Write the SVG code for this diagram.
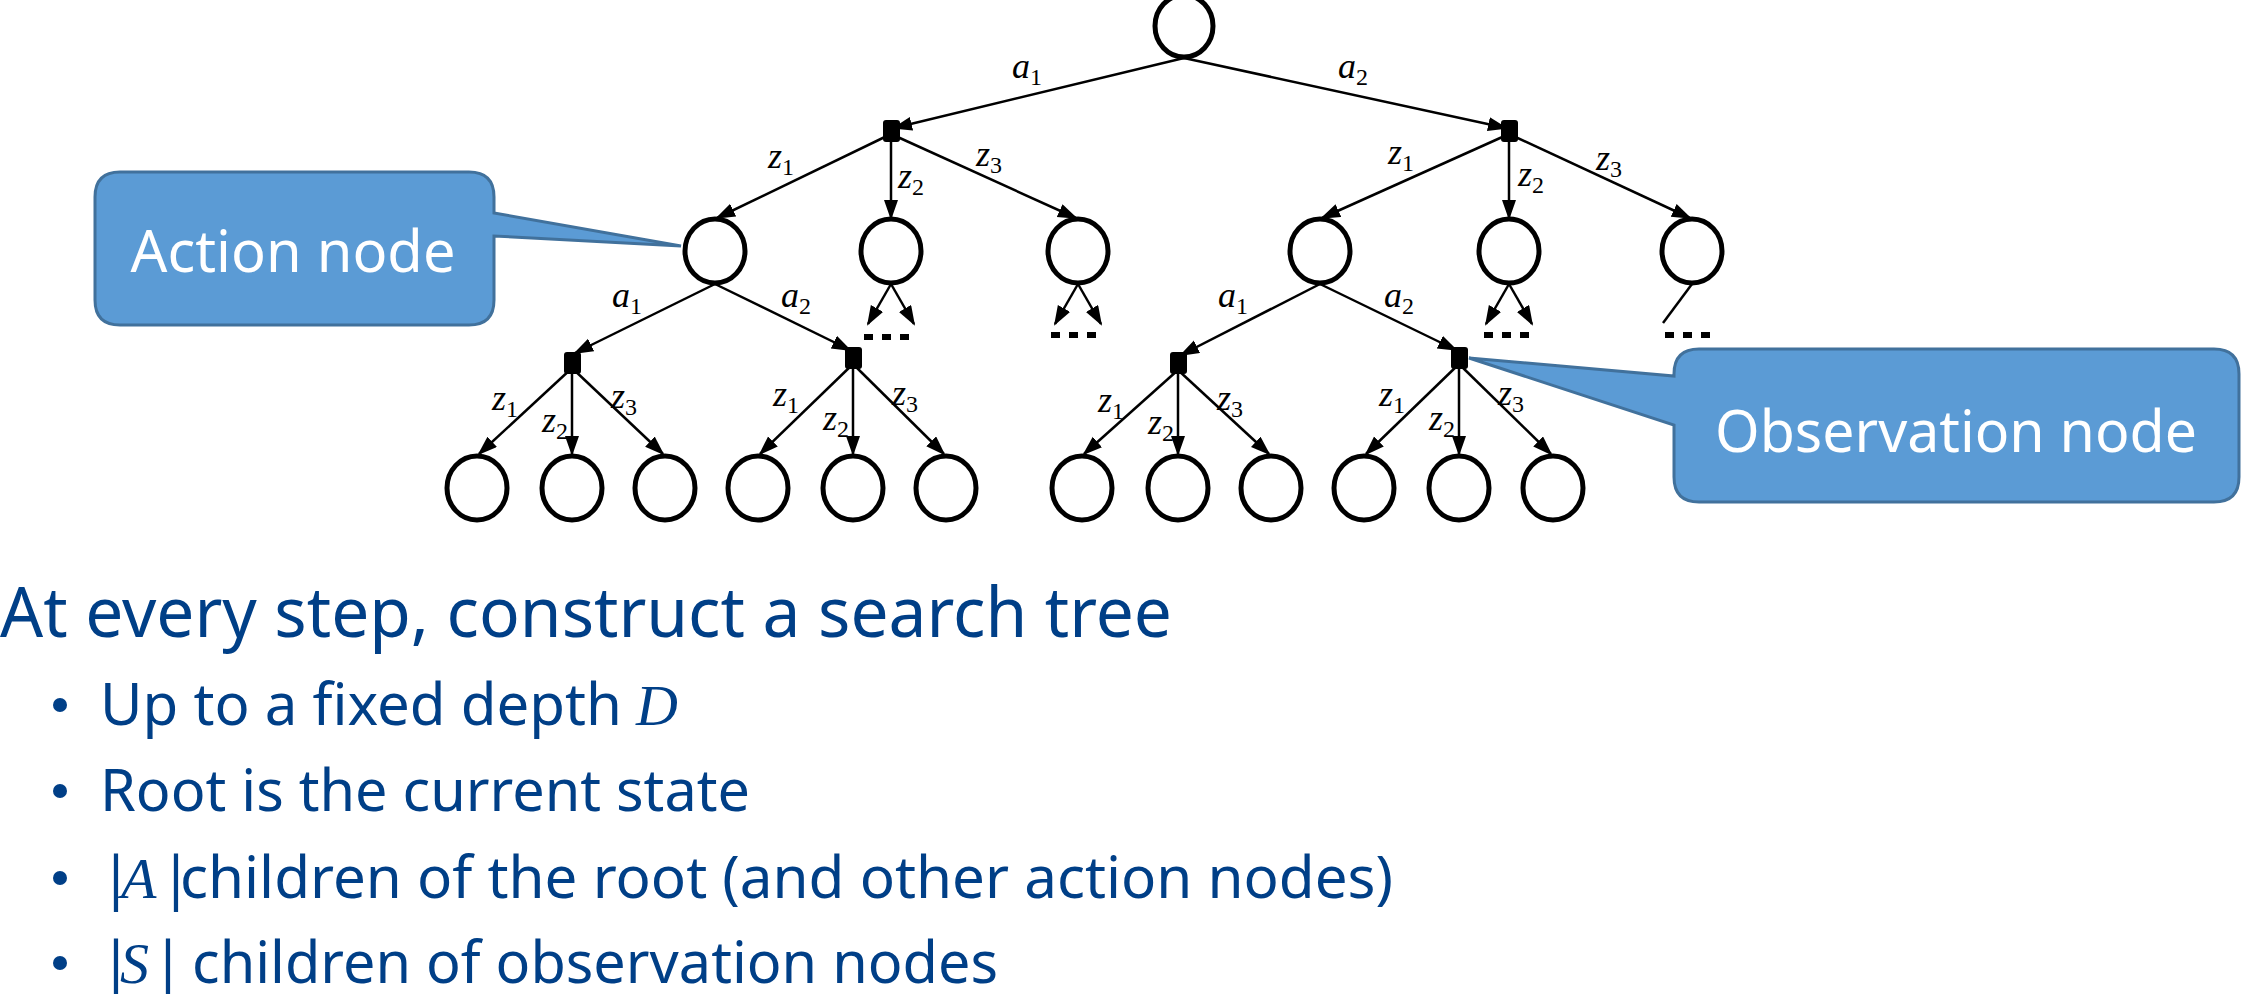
<svg xmlns="http://www.w3.org/2000/svg" width="2247" height="994" viewBox="0 0 2247 994">
<style>
.c{fill:#fff;stroke:#000;stroke-width:5}
.o{fill:#000}
.e{stroke:#000;stroke-width:2.5;fill:none}
.ea{stroke:#000;stroke-width:2.5;fill:none;marker-end:url(#ah)}
.l{font-family:"Liberation Serif",serif;font-style:italic;font-size:36px;fill:#000}
.s{font-size:24px;font-style:normal}
.call{fill:#5B9BD5;stroke:#41719C;stroke-width:3}
.ct{font-family:"Noto Sans","Open Sans",sans-serif;font-size:58px;fill:#fff}
.t{font-family:"Noto Sans","Open Sans",sans-serif;fill:#003F87}
.m{font-family:"Liberation Serif",serif;font-style:italic}
.d{fill:#000}
</style>
<defs>
<marker id="ah" markerUnits="userSpaceOnUse" markerWidth="20" markerHeight="16" refX="18" refY="7" orient="auto"><path d="M0,0 L20,7 L0,14 Z" fill="#000"/></marker>
</defs>
<g id="connectors">
<line class="ea" x1="1184" y1="58" x2="894" y2="128"/>
<line class="ea" x1="1184" y1="58" x2="1506" y2="128"/>
<line class="ea" x1="891" y1="134" x2="717" y2="218"/>
<line class="ea" x1="891" y1="134" x2="891" y2="218"/>
<line class="ea" x1="891" y1="134" x2="1076" y2="218"/>
<line class="ea" x1="1509" y1="134" x2="1322" y2="218"/>
<line class="ea" x1="1509" y1="134" x2="1509" y2="218"/>
<line class="ea" x1="1509" y1="134" x2="1690" y2="218"/>
<line class="ea" x1="715" y1="284" x2="575" y2="353"/>
<line class="ea" x1="715" y1="284" x2="850" y2="350"/>
<line class="ea" x1="1320" y1="284" x2="1181" y2="355"/>
<line class="ea" x1="1320" y1="284" x2="1456" y2="350"/>
<line class="ea" x1="891" y1="284" x2="868" y2="324"/>
<line class="ea" x1="891" y1="284" x2="914" y2="324"/>
<line class="ea" x1="1078" y1="284" x2="1055" y2="324"/>
<line class="ea" x1="1078" y1="284" x2="1101" y2="324"/>
<line class="ea" x1="1509" y1="284" x2="1486" y2="324"/>
<line class="ea" x1="1509" y1="284" x2="1532" y2="324"/>
<line class="e" x1="1692" y1="284" x2="1663" y2="323"/>
<line class="ea" x1="572" y1="368" x2="479" y2="454"/>
<line class="ea" x1="572" y1="368" x2="572" y2="454"/>
<line class="ea" x1="572" y1="368" x2="663" y2="454"/>
<line class="ea" x1="853" y1="364" x2="760" y2="454"/>
<line class="ea" x1="853" y1="364" x2="853" y2="454"/>
<line class="ea" x1="853" y1="364" x2="944" y2="454"/>
<line class="ea" x1="1178" y1="370" x2="1084" y2="454"/>
<line class="ea" x1="1178" y1="370" x2="1178" y2="454"/>
<line class="ea" x1="1178" y1="370" x2="1269" y2="454"/>
<line class="ea" x1="1459" y1="364" x2="1366" y2="454"/>
<line class="ea" x1="1459" y1="364" x2="1459" y2="454"/>
<line class="ea" x1="1459" y1="364" x2="1551" y2="454"/>
</g>
<g id="dots">
<rect class="d" x="864" y="334" width="9" height="6"/><rect class="d" x="882" y="334" width="9" height="6"/><rect class="d" x="900" y="334" width="9" height="6"/>
<rect class="d" x="1051" y="332" width="9" height="6"/><rect class="d" x="1069" y="332" width="9" height="6"/><rect class="d" x="1087" y="332" width="9" height="6"/>
<rect class="d" x="1484" y="332" width="9" height="6"/><rect class="d" x="1502" y="332" width="9" height="6"/><rect class="d" x="1520" y="332" width="9" height="6"/>
<rect class="d" x="1665" y="332" width="9" height="6"/><rect class="d" x="1683" y="332" width="9" height="6"/><rect class="d" x="1701" y="332" width="9" height="6"/>
</g>
<g id="root"><ellipse class="c" cx="1184" cy="26" rx="29" ry="31"/></g>
<g id="obs1"><rect class="o" x="883" y="120" width="17" height="22" rx="3"/></g>
<g id="obs2"><rect class="o" x="1501" y="120" width="17" height="22" rx="3"/></g>
<g id="obs3"><rect class="o" x="564" y="352" width="17" height="22" rx="3"/></g>
<g id="obs4"><rect class="o" x="845" y="347" width="17" height="22" rx="3"/></g>
<g id="obs5"><rect class="o" x="1170" y="352" width="17" height="22" rx="3"/></g>
<g id="obs6"><rect class="o" x="1451" y="347" width="17" height="22" rx="3"/></g>
<g id="n1"><ellipse class="c" cx="715" cy="251" rx="30" ry="32"/></g>
<g id="n2"><ellipse class="c" cx="891" cy="251" rx="30" ry="32"/></g>
<g id="n3"><ellipse class="c" cx="1078" cy="251" rx="30" ry="32"/></g>
<g id="n4"><ellipse class="c" cx="1320" cy="251" rx="30" ry="32"/></g>
<g id="n5"><ellipse class="c" cx="1509" cy="251" rx="30" ry="32"/></g>
<g id="n6"><ellipse class="c" cx="1692" cy="251" rx="30" ry="32"/></g>
<g id="leaves">
<ellipse class="c" cx="477" cy="488" rx="30" ry="32"/><ellipse class="c" cx="572" cy="488" rx="30" ry="32"/><ellipse class="c" cx="665" cy="488" rx="30" ry="32"/>
<ellipse class="c" cx="758" cy="488" rx="30" ry="32"/><ellipse class="c" cx="853" cy="488" rx="30" ry="32"/><ellipse class="c" cx="946" cy="488" rx="30" ry="32"/>
<ellipse class="c" cx="1082" cy="488" rx="30" ry="32"/><ellipse class="c" cx="1178" cy="488" rx="30" ry="32"/><ellipse class="c" cx="1271" cy="488" rx="30" ry="32"/>
<ellipse class="c" cx="1364" cy="488" rx="30" ry="32"/><ellipse class="c" cx="1459" cy="488" rx="30" ry="32"/><ellipse class="c" cx="1553" cy="488" rx="30" ry="32"/>
</g>
<g id="labels">
<text class="l" x="1012" y="78">a<tspan class="s" dy="7">1</tspan></text>
<text class="l" x="1338" y="78">a<tspan class="s" dy="7">2</tspan></text>
<text class="l" x="768" y="168">z<tspan class="s" dy="7">1</tspan></text>
<text class="l" x="898" y="188">z<tspan class="s" dy="7">2</tspan></text>
<text class="l" x="976" y="166">z<tspan class="s" dy="7">3</tspan></text>
<text class="l" x="1388" y="164">z<tspan class="s" dy="7">1</tspan></text>
<text class="l" x="1518" y="186">z<tspan class="s" dy="7">2</tspan></text>
<text class="l" x="1596" y="170">z<tspan class="s" dy="7">3</tspan></text>
<text class="l" x="612" y="307">a<tspan class="s" dy="7">1</tspan></text>
<text class="l" x="781" y="307">a<tspan class="s" dy="7">2</tspan></text>
<text class="l" x="1218" y="307">a<tspan class="s" dy="7">1</tspan></text>
<text class="l" x="1384" y="307">a<tspan class="s" dy="7">2</tspan></text>
<text class="l" x="492" y="410">z<tspan class="s" dy="7">1</tspan></text>
<text class="l" x="542" y="432">z<tspan class="s" dy="7">2</tspan></text>
<text class="l" x="611" y="408">z<tspan class="s" dy="7">3</tspan></text>
<text class="l" x="773" y="406">z<tspan class="s" dy="7">1</tspan></text>
<text class="l" x="823" y="430">z<tspan class="s" dy="7">2</tspan></text>
<text class="l" x="892" y="405">z<tspan class="s" dy="7">3</tspan></text>
<text class="l" x="1098" y="412">z<tspan class="s" dy="7">1</tspan></text>
<text class="l" x="1148" y="434">z<tspan class="s" dy="7">2</tspan></text>
<text class="l" x="1217" y="410">z<tspan class="s" dy="7">3</tspan></text>
<text class="l" x="1379" y="406">z<tspan class="s" dy="7">1</tspan></text>
<text class="l" x="1429" y="430">z<tspan class="s" dy="7">2</tspan></text>
<text class="l" x="1498" y="405">z<tspan class="s" dy="7">3</tspan></text>
</g>
<g id="callout-action">
<path class="call" d="M120,172 H469 Q494,172 494,197 V213 L681,246 L494,236 V300 Q494,325 469,325 H120 Q95,325 95,300 V197 Q95,172 120,172 Z"/>
<text class="ct" x="293" y="272" text-anchor="middle" textLength="325" lengthAdjust="spacingAndGlyphs">Action node</text>
</g>
<g id="callout-observation">
<path class="call" d="M1699,349 H2214 Q2239,349 2239,374 V477 Q2239,502 2214,502 H1699 Q1674,502 1674,477 V425 L1469,358 L1674,376 V374 Q1674,349 1699,349 Z"/>
<text class="ct" x="1956" y="452" text-anchor="middle" textLength="482" lengthAdjust="spacingAndGlyphs">Observation node</text>
</g>
<g id="text">
<text class="t" x="0" y="637" font-size="70" textLength="1172" lengthAdjust="spacingAndGlyphs">At every step, construct a search tree</text>
<circle cx="60" cy="705" r="7" fill="#003F87"/>
<text class="t" x="100" y="725" font-size="58" textLength="522" lengthAdjust="spacingAndGlyphs">Up to a fixed depth</text>
<text class="t m" x="636" y="725" font-size="58">D</text>
<circle cx="60" cy="791" r="7" fill="#003F87"/>
<text class="t" x="100" y="811" font-size="58" textLength="650" lengthAdjust="spacingAndGlyphs">Root is the current state</text>
<circle cx="60" cy="878" r="7" fill="#003F87"/>
<text class="t" x="100" y="898" font-size="58">|</text>
<text class="t m" x="121" y="898" font-size="58">A</text>
<text class="t" x="160" y="898" font-size="58">|</text>
<text class="t" x="180" y="898" font-size="58" textLength="1213" lengthAdjust="spacingAndGlyphs">children of the root (and other action nodes)</text>
<circle cx="60" cy="963" r="7" fill="#003F87"/>
<text class="t" x="100" y="983" font-size="58">|</text>
<text class="t m" x="120" y="983" font-size="58">S</text>
<text class="t" x="152" y="983" font-size="58">|</text>
<text class="t" x="192" y="983" font-size="58" textLength="806" lengthAdjust="spacingAndGlyphs">children of observation nodes</text>
</g>
</svg>
